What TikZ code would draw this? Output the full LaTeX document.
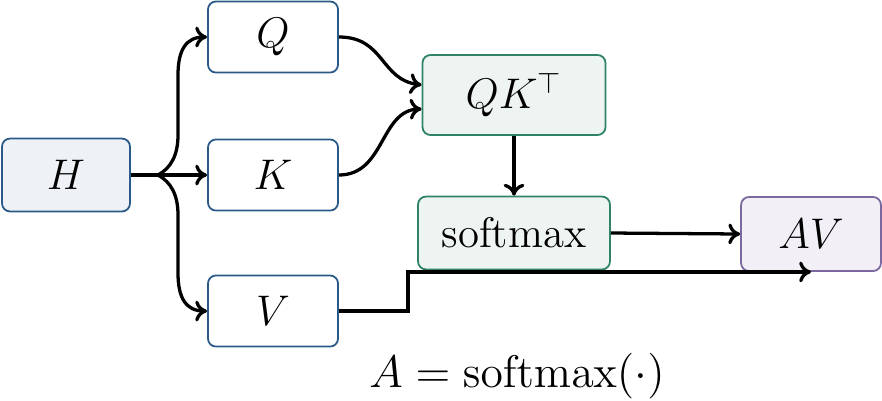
\documentclass[tikz,border=0pt]{standalone}
\usepackage{amsmath,amssymb}
\usepackage{graphicx}
\usepackage{tikz}
\usetikzlibrary{arrows.meta}
\usepackage{xcolor}
\definecolor{inblue}{HTML}{2C5A88}
\definecolor{inbluefill}{HTML}{EEF2F6}
\definecolor{attgreen}{HTML}{2F8465}
\definecolor{attgreenfill}{HTML}{EEF4F1}
\definecolor{outpurple}{HTML}{7A689F}
\definecolor{outpurplefill}{HTML}{F2F0F6}

\begin{document}
\begin{tikzpicture}[x=0.336pt, y=-0.336pt, font=\Large,
  box/.style = {draw, rounded corners=2.7pt, line width=0.6pt, inner sep=0pt},
  inbox/.style = {box, draw=inblue, fill=white, minimum width=43.7pt, minimum height=23.9pt},
  attbox/.style = {box, draw=attgreen, fill=attgreenfill, minimum height=24.5pt},
  flow/.style = {line width=1.1pt, -{To[length=4pt,width=7pt]}}]
 \useasboundingbox (0, 0) rectangle (882, 400);
  \node[inbox, fill=inbluefill, minimum width=43pt, minimum height=24.5pt] (H) at (66, 175) {$H$};
  \node[inbox] (Q) at (273, 37) {$Q$};
  \node[inbox] (K) at (273, 175) {$K$};
  \node[inbox] (V) at (273, 311) {$V$};
  \node[attbox, minimum width=61.5pt, minimum height=26.9pt] (QK) at (514, 95) {$QK^{\top}$};
  \node[attbox, minimum width=64.5pt] (softmax) at (514, 233) {softmax};
  \node[box, draw=outpurple, fill=outpurplefill, minimum width=47pt, minimum height=24.9pt] (AV) at (811, 234) {$AV$};
  \node (alabel) at (517, 376) {\scalebox{1.065}{$A = \operatorname{softmax}(\cdot)$}};
  \coordinate (branch) at (158, 175);
  \draw[line width=1.1pt] (H.east) -- (branch);
  \draw[flow] (branch) -- (K.west);
  \draw[flow] (branch) .. controls (171, 168) and (178, 155) .. (178, 135)
    -- (178, 75) .. controls (178, 50) and (186, 37) .. (Q.west);
  \draw[flow] (branch) .. controls (171, 182) and (178, 195) .. (178, 215)
    -- (178, 273) .. controls (178, 298) and (186, 311) .. (V.west);
  \draw[flow] (Q.east) .. controls (385, 37) and (380, 80) .. ([yshift=3.4pt]QK.west);
  \draw[flow] (K.east) .. controls (385, 175) and (380, 110) .. ([yshift=-4.7pt]QK.west);
  \draw[flow] (QK.south) -- (softmax.north);
  \draw[flow] (softmax.east) -- (AV.west);
  \draw[flow] (V.east) -- (408, 311) |- (AV.south);
 \end{tikzpicture}
\end{document}
